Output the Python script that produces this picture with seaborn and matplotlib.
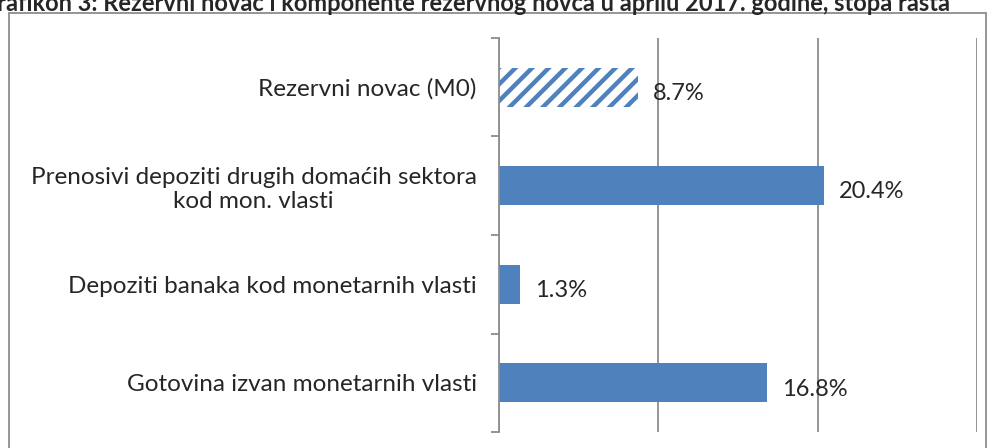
import matplotlib
matplotlib.use("Agg")
import matplotlib.pyplot as plt
import seaborn as sns
import pandas as pd
from matplotlib.patches import Rectangle

sns.set_style("white")
plt.rcParams['font.family'] = ['Lato', 'DejaVu Sans']
plt.rcParams['hatch.linewidth'] = 3.2

# data
categories = ["Rezervni novac (M0)",
              "Prenosivi depoziti drugih domaćih sektora\nkod mon. vlasti",
              "Depoziti banaka kod monetarnih vlasti",
              "Gotovina izvan monetarnih vlasti"]
growth = [8.7, 20.4, 1.3, 16.8]
labels = ["8.7%", "20.4%", "1.3%", "16.8%"]
title = "Grafikon 3: Rezervni novac i komponente rezervnog novca u aprilu 2017. godine, stopa rasta"

df = pd.DataFrame({"kat": categories, "rast": growth})
blue = "#4f81bd"
grid_col = "#8c8c8c"

fig = plt.figure(figsize=(9.9, 4.48), dpi=100)
ax = fig.add_axes([499 / 990, 1 - 432 / 448, (977 - 499) / 990, (432 - 38) / 448])

sns.barplot(data=df, x="rast", y="kat", orient="h", color=blue, width=0.4,
            saturation=1, ax=ax)

# first bar (M0) is hatched
p0 = ax.patches[0]
p0.set_facecolor("white")
p0.set_edgecolor(blue)
p0.set_hatch("//")
p0.set_linewidth(0)

for p in ax.patches[1:]:
    p.set_linewidth(0)

ax.set_xlim(0, 30)
ax.set_ylim(3.5, -0.5)
ax.set_xticks([0, 10, 20, 30])
ax.set_xticklabels([])
ax.tick_params(axis="x", length=0)
ax.grid(axis="x", color=grid_col, linewidth=1.3)
ax.set_axisbelow(True)

ax.set_yticks(range(len(categories)))
ax.set_yticklabels(categories, fontsize=17.5, multialignment="center")
ax.tick_params(axis="y", which="major", left=False, length=0, pad=16)
ax.set_yticks([-0.5, 0.5, 1.5, 2.5, 3.5], minor=True)
ax.tick_params(axis="y", which="minor", left=True, length=6, width=1.3,
               color=grid_col)
ax.set_xlabel("")
ax.set_ylabel("")

for s in ["top", "right", "bottom"]:
    ax.spines[s].set_visible(False)
ax.spines["left"].set_color(grid_col)
ax.spines["left"].set_linewidth(1.3)

for i, (v, lab) in enumerate(zip(growth, labels)):
    ax.annotate(lab, xy=(v, i), xytext=(11, -4.5), textcoords="offset points",
                ha="left", va="center", fontsize=17)

# outer chart frame
fig.patches.append(Rectangle((9 / 990, -0.05), (986 - 9) / 990, 1.05 - 13 / 448,
                             transform=fig.transFigure, fill=False,
                             edgecolor="#8c8c8c", linewidth=1.3))

fig.text(0.47, 1 - 11 / 448, title, ha="center", va="baseline", fontsize=17,
         fontweight="bold")

fig.savefig("out.png", dpi=100)
